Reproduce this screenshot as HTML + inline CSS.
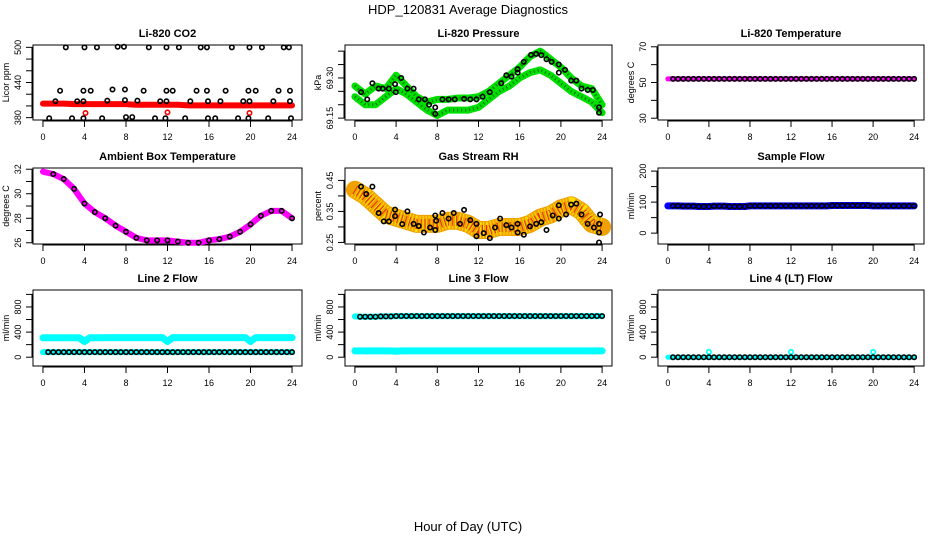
<!DOCTYPE html>
<html><head><meta charset="utf-8"><style>
body{margin:0;background:#fff}
svg{display:block;font-family:"Liberation Sans",sans-serif}
</style></head><body>
<svg id="c" width="936" height="540" viewBox="0 0 936 540" xmlns="http://www.w3.org/2000/svg">
<text x="468" y="14" text-anchor="middle" font-size="13">HDP_120831  Average Diagnostics</text>
<text x="468" y="531" text-anchor="middle" font-size="13">Hour of Day (UTC)</text>
</svg>
<script>
// ---- data ----
const xTicks=[0,4,8,12,16,20,24];
const halfHours=[0,0.5,1,1.5,2,2.5,3,3.5,4,4.5,5,5.5,6,6.5,7,7.5,8,8.5,9,9.5,10,10.5,11,11.5,12,12.5,13,13.5,14,14.5,15,15.5,16,16.5,17,17.5,18,18.5,19,19.5,20,20.5,21,21.5,22,22.5,23,23.5,24];
const hours=[0,1,2,3,4,5,6,7,8,9,10,11,12,13,14,15,16,17,18,19,20,21,22,23,24];
// CO2
const co2RedVals=[404,404,404,403,403,403,403,403,403,402,402,402,402,402,401,401,401,401,401,401,401,401,401,401,401];
const co2RedOutHours=[4.1,12.0,19.9];
const co2RedOutVals=[388,389,388];
const co2BlackHours=[2.2,4.0,5.2,7.2,7.8,10.2,11.9,13.1,15.2,15.8,18.2,19.9,21.1,23.2,23.7,1.65,3.9,4.6,6.7,7.9,9.7,11.9,12.5,14.8,15.8,17.6,19.8,20.5,22.7,23.8,1.2,3.3,3.9,6.2,7.9,9.1,11.3,11.9,14.2,15.9,17.1,19.3,19.9,22.2,23.8,0.6,2.8,3.9,5.7,8.0,8.6,10.8,11.8,13.7,15.9,16.6,18.8,19.8,21.7,23.9];
const co2BlackVals=[500,500,500,501,501,500,500,500,500,500,500,500,500,500,500,426,426,426,428,428,426,426,426,426,426,426,426,426,426,426,408,408,408,409,410,409,408,408,408,408,408,408,408,408,408,379,379,379,379,381,381,379,379,379,379,379,379,379,379,379];
// Pressure
const presUpper=[69.27,69.24,69.27,69.26,69.31,69.27,69.23,69.21,69.22,69.22,69.225,69.225,69.23,69.25,69.28,69.31,69.34,69.38,69.40,69.37,69.34,69.30,69.27,69.26,69.20];
const presLower=[69.23,69.20,69.20,69.23,69.26,69.24,69.21,69.18,69.16,69.18,69.18,69.18,69.19,69.22,69.25,69.27,69.30,69.32,69.33,69.31,69.28,69.25,69.23,69.21,69.17];
const presBlackHours=[0.6,1.2,1.7,2.3,2.7,3.3,3.9,3.97,4.5,5.1,5.7,6.2,6.8,7.2,7.8,7.8,8.5,9.1,9.7,10.6,11.2,11.8,12.4,13.1,14.2,14.7,15.2,15.8,15.8,16.4,17.1,17.6,18.1,18.6,19.1,19.8,19.8,20.4,21.0,21.5,22.0,22.6,23.1,23.7,23.7];
const presBlackVals=[69.247,69.22,69.28,69.26,69.26,69.26,69.277,69.247,69.30,69.26,69.26,69.22,69.22,69.20,69.19,69.166,69.22,69.22,69.22,69.222,69.22,69.22,69.23,69.247,69.28,69.31,69.305,69.333,69.32,69.36,69.386,69.39,69.385,69.37,69.36,69.35,69.32,69.33,69.29,69.29,69.26,69.255,69.255,69.19,69.17];
// Li-820 temperature
const tempVals=[52,52,52,52,52,52,52,52,52,52,52,52,52,52,52,52,52,52,52,52,52,52,52,52,52,52,52,52,52,52,52,52,52,52,52,52,52,52,52,52,52,52,52,52,52,52,52,52,52];
// Ambient box temperature
const ambVals=[31.8,31.6,31.2,30.4,29.2,28.5,28.0,27.4,26.9,26.4,26.2,26.2,26.2,26.1,26.0,26.0,26.2,26.3,26.5,26.9,27.5,28.2,28.6,28.6,28.0];
// RH
const rhBand=[0.42,0.40,0.37,0.34,0.33,0.32,0.31,0.31,0.31,0.32,0.32,0.31,0.29,0.29,0.30,0.30,0.30,0.31,0.33,0.34,0.36,0.37,0.35,0.31,0.30];
const rhBlackHours=[0.6,1.1,1.7,2.3,2.8,3.3,3.9,3.9,4.6,5.1,5.7,6.2,6.7,7.3,7.8,7.8,7.9,8.5,9.1,9.6,10.2,10.6,11.2,11.8,11.8,12.5,13.1,13.6,14.1,14.7,15.2,15.8,15.8,16.4,17.0,17.6,18.1,18.6,19.2,19.8,19.8,20.5,21.0,21.5,22.0,22.6,23.2,23.7,23.8,23.7,23.7];
const rhBlackVals=[0.43,0.406,0.43,0.345,0.318,0.318,0.356,0.335,0.309,0.35,0.31,0.303,0.282,0.298,0.337,0.29,0.32,0.345,0.327,0.345,0.31,0.355,0.322,0.31,0.27,0.28,0.264,0.298,0.327,0.306,0.298,0.31,0.282,0.275,0.302,0.31,0.315,0.29,0.337,0.37,0.327,0.34,0.372,0.375,0.34,0.31,0.298,0.31,0.34,0.282,0.25];
// Sample flow
const sampleVals=[88,88,88,87,87,87,86,86,86,87,87,87,86,86,86,86,88,88,88,88,88,88,88,88,88,88,88,88,88,88,88,88,89,89,89,89,89,89,89,89,88,88,88,88,88,88,88,88,88];
// Line flows
const line2Cyan=[310,310,310,310,310,310,310,310,250,310,310,310,312,312,312,312,312,312,312,312,312,312,312,312,250,312,312,312,312,312,312,312,312,312,312,312,312,312,312,312,250,312,312,312,312,312,312,312,312];
const line2Black=[80,80,80,80,80,80,80,80,80,80,80,80,80,80,80,80,80,80,80,80,80,80,80,80,80,80,80,80,80,80,80,80,80,80,80,80,80,80,80,80,80,80,80,80,80,80,80,80,80];
const line3Cyan=[100,100,100,100,100,100,100,100,95,100,100,100,100,100,100,100,100,100,100,100,100,100,100,100,100,100,100,100,100,100,100,100,100,100,100,100,100,100,100,100,100,100,100,100,100,100,100,100,100];
const line3Black=[650,645,645,645,645,650,650,650,655,655,655,655,655,655,655,655,655,655,655,655,655,655,655,655,655,655,655,655,655,655,655,655,655,655,655,655,655,655,655,655,655,655,655,655,655,655,655,655,655];
const line4Cyan=[0,0,0,0,0,0,0,0,0,0,0,0,0,0,0,0,0,0,0,0,0,0,0,0,0,0,0,0,0,0,0,0,0,0,0,0,0,0,0,0,0,0,0,0,0,0,0,0,0];
const line4Black=[0,0,0,0,0,0,0,0,0,0,0,0,0,0,0,0,0,0,0,0,0,0,0,0,0,0,0,0,0,0,0,0,0,0,0,0,0,0,0,0,0,0,0,0,0,0,0,0,0];
const line4OutHours=[4,12,20];
const line4OutVals=[85,85,85];

// ---- drawing ----
const svg=document.getElementById('c');
const NS='http://www.w3.org/2000/svg';
function mk(tag,attrs,parent){const e=document.createElementNS(NS,tag);for(const k in attrs)e.setAttribute(k,attrs[k]);(parent||svg).appendChild(e);return e;}
const cols=[[33,302],[345,612],[658,924]];
const rows=[[45,120],[168,244],[290,366]];
function panel(ci,ri,title,ylab,yMin,yMax,yTicks,yLabels,dec,slug){
  const [x0,x1]=cols[ci],[y0,y1]=rows[ri];
  const g=mk('g',{});
  
  
  const sx=h=>x0+(h+0.96)/25.92*(x1-x0);
  const sy=v=>y1-(v-yMin)/(yMax-yMin)*(y1-y0);
  const t=mk('text',{x:(x0+x1)/2,y:y0-8,'text-anchor':'middle','font-size':11,'font-weight':'bold'},g);t.textContent=title;
  
  
  const r=mk('rect',{x:x0,y:y0,width:x1-x0,height:y1-y0,fill:'none',stroke:'#000','stroke-width':1},g);
  
  
  const xa=mk('g',{},g);
  
  
  mk('line',{x1:sx(0),x2:sx(24),y1:y1+1,y2:y1+1,stroke:'#000'},xa);
  xTicks.forEach(h=>{mk('line',{x1:sx(h),x2:sx(h),y1:y1,y2:y1+7,stroke:'#000'},xa);
    const l=mk('text',{x:sx(h),y:y1+20,'text-anchor':'middle','font-size':9},xa);l.textContent=h;});
  const ya=mk('g',{},g);
  
  
  mk('line',{x1:x0-1,x2:x0-1,y1:sy(yTicks[0]),y2:sy(yTicks[yTicks.length-1]),stroke:'#000'},ya);
  yTicks.forEach(v=>{mk('line',{x1:x0-7,x2:x0,y1:sy(v),y2:sy(v),stroke:'#000'},ya);});
  yLabels.forEach(v=>{const l=mk('text',{x:0,y:0,'text-anchor':'middle','font-size':9,transform:`translate(${x0-12},${sy(v)}) rotate(-90)`},ya);l.textContent=v.toFixed(dec);});
  const yl=mk('text',{x:0,y:0,'text-anchor':'middle','font-size':9,transform:`translate(${x0-24},${(y0+y1)/2}) rotate(-90)`},g);yl.textContent=ylab;
  
  
  const pg=mk('g',{},g);
  
  
  return {sx,sy,g:pg};
}
function band(p,hs,vs,color,w,dash){
  const pts=hs.map((h,i)=>p.sx(h)+','+p.sy(vs[i])).join(' ');
  const a={points:pts,fill:'none',stroke:color,'stroke-width':w,'stroke-linejoin':'round','stroke-linecap':'round'};
  if(dash){a['stroke-dasharray']=dash;a['stroke-linecap']='butt';}
  const pl=mk('polyline',a,p.g);
  
  
}
function rings(p,hs,vs,color,r,sw){
  hs.forEach((h,i)=>{const c=mk('circle',{cx:p.sx(h),cy:p.sy(vs[i]),r:r||2.2,fill:'none',stroke:color||'#000','stroke-width':sw||1.6},p.g);
    
    });
}
let p;
// CO2
p=panel(0,0,'Li-820 CO2','Licor ppm',376,504,[380,400,420,440,460,480,500],[380,440,500],0,'co2');
band(p,hours,co2RedVals,'#f00',6);
rings(p,co2RedOutHours,co2RedOutVals,'#f00');
rings(p,co2BlackHours,co2BlackVals,'#000');
// Pressure
p=panel(1,0,'Li-820 Pressure','kPa',69.143,69.423,[69.15,69.20,69.25,69.30,69.35,69.40],[69.15,69.30],2,'pressure');
band(p,hours,presUpper,'#00e000',7);
band(p,hours,presLower,'#00e000',7);
band(p,hours,presUpper,'#007000',3,'1 3');
band(p,hours,presLower,'#007000',3,'1 3');
rings(p,presBlackHours,presBlackVals,'#000');
// Temperature
p=panel(2,0,'Li-820 Temperature','degrees C',29,71,[30,40,50,60,70],[30,50,70],0,'li820-temp');
band(p,halfHours,tempVals,'#f0f',5);
rings(p,halfHours.slice(1),tempVals.slice(1),'#000');
// Ambient
p=panel(0,1,'Ambient Box Temperature','degrees C',25.9,32.1,[26,27,28,29,30,31,32],[26,28,30,32],0,'ambient-temp');
band(p,hours,ambVals,'#f0f',6);
rings(p,hours.slice(1),ambVals.slice(1),'#000');
// RH
p=panel(1,1,'Gas Stream RH','percent',0.245,0.49,[0.25,0.30,0.35,0.40,0.45],[0.25,0.35,0.45],2,'rh');
band(p,hours,rhBand,'#f0a000',18);
band(p,hours,rhBand,'#ffe000',16,'1 2');
band(p,hours,rhBand,'#e03000',10,'1 3');
rings(p,rhBlackHours,rhBlackVals,'#000');
// Sample flow
p=panel(2,1,'Sample Flow','ml/min',-35,210,[0,50,100,150,200],[0,100,200],0,'sample-flow');
band(p,halfHours,sampleVals,'#00f',7);
rings(p,halfHours.slice(1),sampleVals.slice(1),'#000');
// Line 2
p=panel(0,2,'Line 2 Flow','ml/min',-140,1070,[0,200,400,600,800,1000],[0,400,800],0,'line2-flow');
band(p,halfHours,line2Cyan,'#0ff',7);
band(p,halfHours,line2Black,'#0ff',6);
rings(p,halfHours.slice(1),line2Black.slice(1),'#000');
// Line 3
p=panel(1,2,'Line 3 Flow','ml/min',-140,1070,[0,200,400,600,800,1000],[0,400,800],0,'line3-flow');
band(p,halfHours,line3Cyan,'#0ff',7);
band(p,halfHours,line3Black,'#0ff',6);
rings(p,halfHours.slice(1),line3Black.slice(1),'#000');
// Line 4
p=panel(2,2,'Line 4 (LT) Flow','ml/min',-140,1070,[0,200,400,600,800,1000],[0,400,800],0,'line4-flow');
band(p,halfHours,line4Cyan,'#0ff',5);
rings(p,line4OutHours,line4OutVals,'#0ff');
rings(p,halfHours.slice(1),line4Black.slice(1),'#000');
</script>
</body></html>
